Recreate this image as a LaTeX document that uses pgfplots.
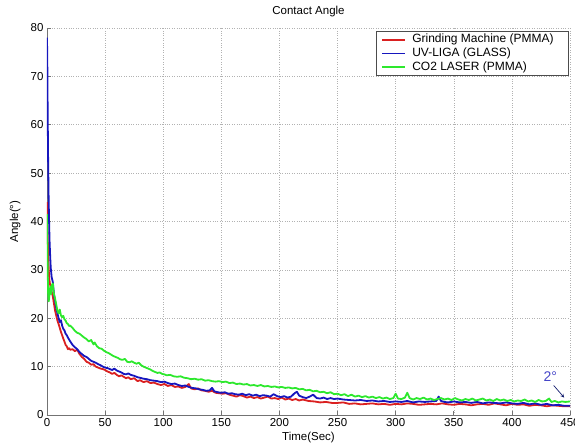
\documentclass[border=0pt]{standalone}
\usepackage{fontspec}
\setmainfont{Liberation Sans}
\usepackage{pgfplots}
\pgfplotsset{compat=1.18}

\definecolor{gmred}{RGB}{218,32,32}
\definecolor{uvblue}{RGB}{22,22,190}
\definecolor{cogreen}{RGB}{45,232,45}
\definecolor{annblue}{RGB}{70,70,200}
\definecolor{annarrow}{RGB}{20,30,110}

\newcommand{\lblfont}{\fontsize{11.5}{13}\selectfont}
\newcommand{\legfont}{\fontsize{12}{13}\selectfont}

\begin{document}
\begin{tikzpicture}
\useasboundingbox (0,0) rectangle (575pt,445pt);
\begin{axis}[
  at={(47pt,30pt)}, anchor=south west,
  scale only axis, width=523pt, height=387pt,
  xmin=0, xmax=450, ymin=0, ymax=80,
  xtick={0,50,...,450}, ytick={0,10,...,80},
  grid=major,
  grid style={dotted, black!30, line width=0.5pt},
  axis x line*=bottom, axis y line*=left,
  axis line style={-, black!55, line width=0.8pt},
  tick align=inside, major tick length=4pt,
  tick style={black!55, line width=0.6pt},
  /pgf/number format/assume math mode=true,
  ticklabel style={font=\lblfont},
  every axis title shift=0pt,
  title={Contact Angle},
  title style={at={(axis description cs:0.5,1.036)}, anchor=base,
    yshift=0pt, font=\lblfont},
  xlabel={Time(Sec)},
  xlabel style={at={(axis description cs:0.5,-0.067)}, anchor=base,
    font=\lblfont},
  ylabel={Angle(°)},
  ylabel style={at={(axis description cs:-0.061,0.5)}, anchor=center,
    font=\lblfont},
  legend cell align=left,
  legend image code/.code={\draw[#1, line width=1.8pt] (0pt,0pt) -- (23pt,0pt);},
  legend style={at={(axis description cs:0.998,0.992)}, anchor=north east,
    draw=black!70, fill=white, line width=0.6pt,
    font=\legfont,
    inner xsep=5.4pt, inner ysep=2pt, row sep=1pt,
    nodes={inner sep=0.6pt, text height=9pt, text depth=2.6pt},
    /tikz/every odd column/.append style={column sep=5.5pt}},
  every axis plot/.append style={line width=1.8pt, line join=round},
]

% Grinding Machine on PMMA
\addplot[gmred, no markers] coordinates {
(0,44) (0.5,38) (1,33) (1.5,30) (2,28) (3,26.5) (4,25.5) (5,24.5) (6,23) (7,21.5)
(8,20.5) (9,19.5) (10,18.8) (11,18) (12,17.2) (13,16.5) (14,15.8) (15,15.2) (16,14.5)
(17,14.2) (18,13.6) (19,13.8) (20,13.5) (22,13.6) (24,13.2) (26,13.5) (28,12.6) (30,12.0)
(32,11.6) (34,11.0) (36,10.8) (38,10.4) (40,10.5) (42,10.0) (44,9.8) (46,9.6) (48,9.5)
(50,9.3) (52,9.0) (54,8.8) (56,8.5) (58,8.7) (60,8.3) (62,8.0) (64,8.2) (66,7.9) (68,7.6)
(70,7.8) (72,7.4) (75,7.6) (78,7.0) (80,7.2) (83,6.8) (86,7.0) (89,6.6) (92,6.7) (95,6.4)
(98,6.2) (101,6.4) (104,6.0) (107,6.2) (110,5.8) (113,5.9) (116,5.6) (119,5.8) (122,6.4)
(124,5.5) (127,5.3) (130,5.5) (133,5.1) (136,5.0) (139,4.8) (142,5.0) (145,4.6) (148,4.5)
(151,4.4) (154,4.5) (157,4.2) (160,4.0) (163,3.8) (166,4.1) (169,3.9) (172,3.6) (175,3.8)
(178,3.5) (181,3.7) (184,3.4) (187,3.6) (190,3.8) (193,3.4) (196,3.5) (199,3.3) (202,3.6)
(205,3.2) (208,3.4) (211,3.1) (214,3.3) (217,3.0) (220,3.2) (225,2.9) (230,2.8) (235,2.6)
(240,2.7) (245,2.5) (250,2.5) (255,2.6) (260,2.3) (265,2.4) (270,2.2) (275,2.3) (280,2.4)
(285,2.2) (290,2.3) (295,2.1) (300,2.3) (305,2.2) (310,2.4) (315,2.3) (320,2.1) (325,2.2)
(330,2.3) (335,2.2) (340,2.4) (345,2.2) (350,2.1) (355,2.3) (360,2.2) (365,2.0) (370,2.2)
(375,2.3) (380,2.1) (385,2.4) (390,2.2) (395,2.0) (400,2.3) (405,2.1) (410,2.2) (415,1.9)
(420,2.1) (425,2.0) (430,1.8) (435,2.0) (440,1.9) (445,1.8) (450,1.8)
};
\addlegendentry{Grinding Machine (PMMA)\hspace{9pt}\mbox{}}

% UV-LIGA on glass
\addplot[uvblue, no markers] coordinates {
(0,78) (0.3,72) (0.6,62) (1,52) (1.4,45) (1.8,40) (2.2,36) (2.7,33) (3.2,30.5) (4,28.5)
(5,27.5) (6,25) (7,23.5) (8,22) (9,21) (10,20) (11,19.2) (12,19.6) (13,18.5) (14,17.8)
(15,17.5) (16,16.8) (17,16.5) (18,16.0) (19,15.6) (20,15.2) (22,14.5) (24,14.0) (26,13.6)
(28,13.0) (30,12.6) (32,12.2) (34,12.0) (36,11.6) (38,11.2) (40,11.0) (42,10.8) (44,10.5)
(46,10.3) (48,10.0) (50,9.8) (52,9.7) (54,9.5) (56,9.3) (58,9.6) (60,9.2) (62,9.0) (64,8.8)
(66,8.5) (68,8.4) (70,8.6) (72,8.3) (75,8.1) (78,7.8) (80,7.7) (83,7.5) (86,7.4) (89,7.2)
(92,7.1) (95,7.0) (98,6.8) (101,6.9) (104,6.6) (107,6.4) (110,6.5) (113,6.2) (116,6.0)
(119,6.1) (122,5.8) (125,5.6) (128,5.5) (131,5.3) (134,5.2) (137,5.0) (140,5.1) (142,5.6)
(144,4.9) (147,4.7) (150,4.6) (153,4.7) (156,4.4) (159,4.5) (162,4.3) (165,4.2) (168,4.4)
(171,4.1) (174,4.3) (177,4.0) (180,4.2) (183,3.9) (186,4.1) (189,4.0) (192,3.8) (195,4.3)
(198,3.9) (201,3.7) (204,3.9) (207,3.6) (210,3.8) (213,4.5) (215,4.8) (217,4.0) (220,3.7)
(223,3.5) (226,3.8) (229,4.2) (232,3.5) (235,3.4) (238,3.6) (241,3.3) (244,3.5) (247,3.3)
(250,3.4) (255,3.2) (260,3.1) (265,3.0) (270,3.1) (275,2.9) (280,3.0) (285,2.8) (290,2.9)
(295,2.7) (300,2.8) (305,2.7) (310,2.9) (315,2.6) (320,2.8) (325,2.7) (330,2.8) (335,2.9)
(337,3.8) (339,2.9) (342,2.7) (345,2.6) (350,2.8) (355,2.6) (360,2.7) (365,2.5) (370,2.7)
(375,2.4) (380,2.6) (385,2.5) (390,2.4) (395,2.6) (400,2.4) (405,2.3) (410,2.5) (415,2.2)
(420,2.4) (425,2.1) (430,2.3) (435,2.0) (440,2.1) (445,1.9) (450,1.9)
};
\addlegendentry{UV-LIGA (GLASS)}

% CO2 laser on PMMA
\addplot[cogreen, no markers] coordinates {
(0,41.5) (0.3,36) (0.6,30) (1,25) (1.5,23.5) (2,24.5) (2.5,26) (3,26.5) (3.5,25) (4,26.8)
(5,27.2) (5.5,26) (6,25) (7,24) (8,22.8) (9,21.5) (10,21.0) (11,21.8) (12,20.6) (13,20.2)
(14,20.5) (15,19.8) (16,19.5) (17,19.0) (18,18.8) (19,18.4) (20,18.5) (22,18.0) (24,17.4)
(26,17.0) (28,16.8) (30,16.4) (32,16.0) (34,15.7) (36,15.2) (38,15.5) (40,14.6) (41,15.0)
(43,14.2) (45,13.8) (47,13.7) (49,13.3) (51,13.0) (53,12.8) (55,12.5) (57,12.2) (59,12.0)
(61,11.8) (63,11.5) (65,11.4) (67,11.6) (69,11.0) (71,10.9) (73,11.1) (75,10.8) (77,10.6)
(79,10.8) (81,10.3) (83,10.0) (85,9.8) (87,9.6) (89,9.4) (91,9.1) (93,8.9) (95,8.7) (97,8.8)
(99,8.5) (101,8.4) (103,8.2) (106,8.3) (109,8.0) (112,7.9) (115,8.0) (118,7.7) (121,7.6)
(124,7.4) (127,7.5) (130,7.3) (133,7.4) (136,7.1) (139,7.2) (142,7.0) (145,6.9) (148,7.0)
(151,6.8) (154,6.9) (157,6.6) (160,6.7) (163,6.4) (166,6.5) (169,6.3) (172,6.4) (175,6.1)
(178,6.2) (181,6.0) (184,6.2) (187,5.9) (190,6.0) (193,5.8) (196,5.9) (199,5.7) (202,5.8)
(205,5.6) (208,5.7) (211,5.5) (214,5.6) (217,5.3) (220,5.4) (223,5.1) (226,5.2) (229,4.9)
(232,5.0) (235,4.7) (238,4.8) (241,4.5) (244,4.7) (247,4.3) (250,4.4) (253,4.1) (256,4.3)
(259,3.9) (262,4.2) (265,3.8) (268,4.0) (271,3.7) (274,3.9) (277,3.6) (280,3.8) (283,3.5)
(286,3.7) (289,3.4) (292,3.6) (295,3.3) (298,3.5) (300,4.4) (302,3.4) (305,3.3) (308,3.6)
(310,4.6) (312,3.5) (315,3.2) (318,3.5) (321,3.3) (324,3.6) (327,3.2) (330,3.4) (333,3.1)
(336,3.3) (339,3.5) (342,3.2) (345,3.4) (348,3.1) (351,3.5) (354,3.2) (357,3.0) (360,3.3)
(363,3.1) (366,3.4) (369,3.0) (372,3.2) (375,3.4) (378,3.0) (381,3.2) (384,2.9) (387,3.3)
(390,3.0) (393,3.2) (396,2.9) (399,3.1) (402,2.8) (405,3.0) (408,2.9) (411,3.2) (414,2.8)
(417,3.0) (420,2.7) (423,3.1) (426,2.8) (429,2.9) (432,3.4) (434,2.7) (437,2.9) (440,2.6)
(443,2.8) (446,2.7) (450,2.8)
};
\addlegendentry{CO2 LASER (PMMA)}

% final-angle callout
\node[text=annblue, font=\fontsize{14}{16}\selectfont] at (axis cs:433,7.9) {2°};
\draw[-stealth, annarrow, line width=0.7pt] (axis cs:436,6.1) -- (axis cs:445,3.6);
\end{axis}
\end{tikzpicture}
\end{document}
